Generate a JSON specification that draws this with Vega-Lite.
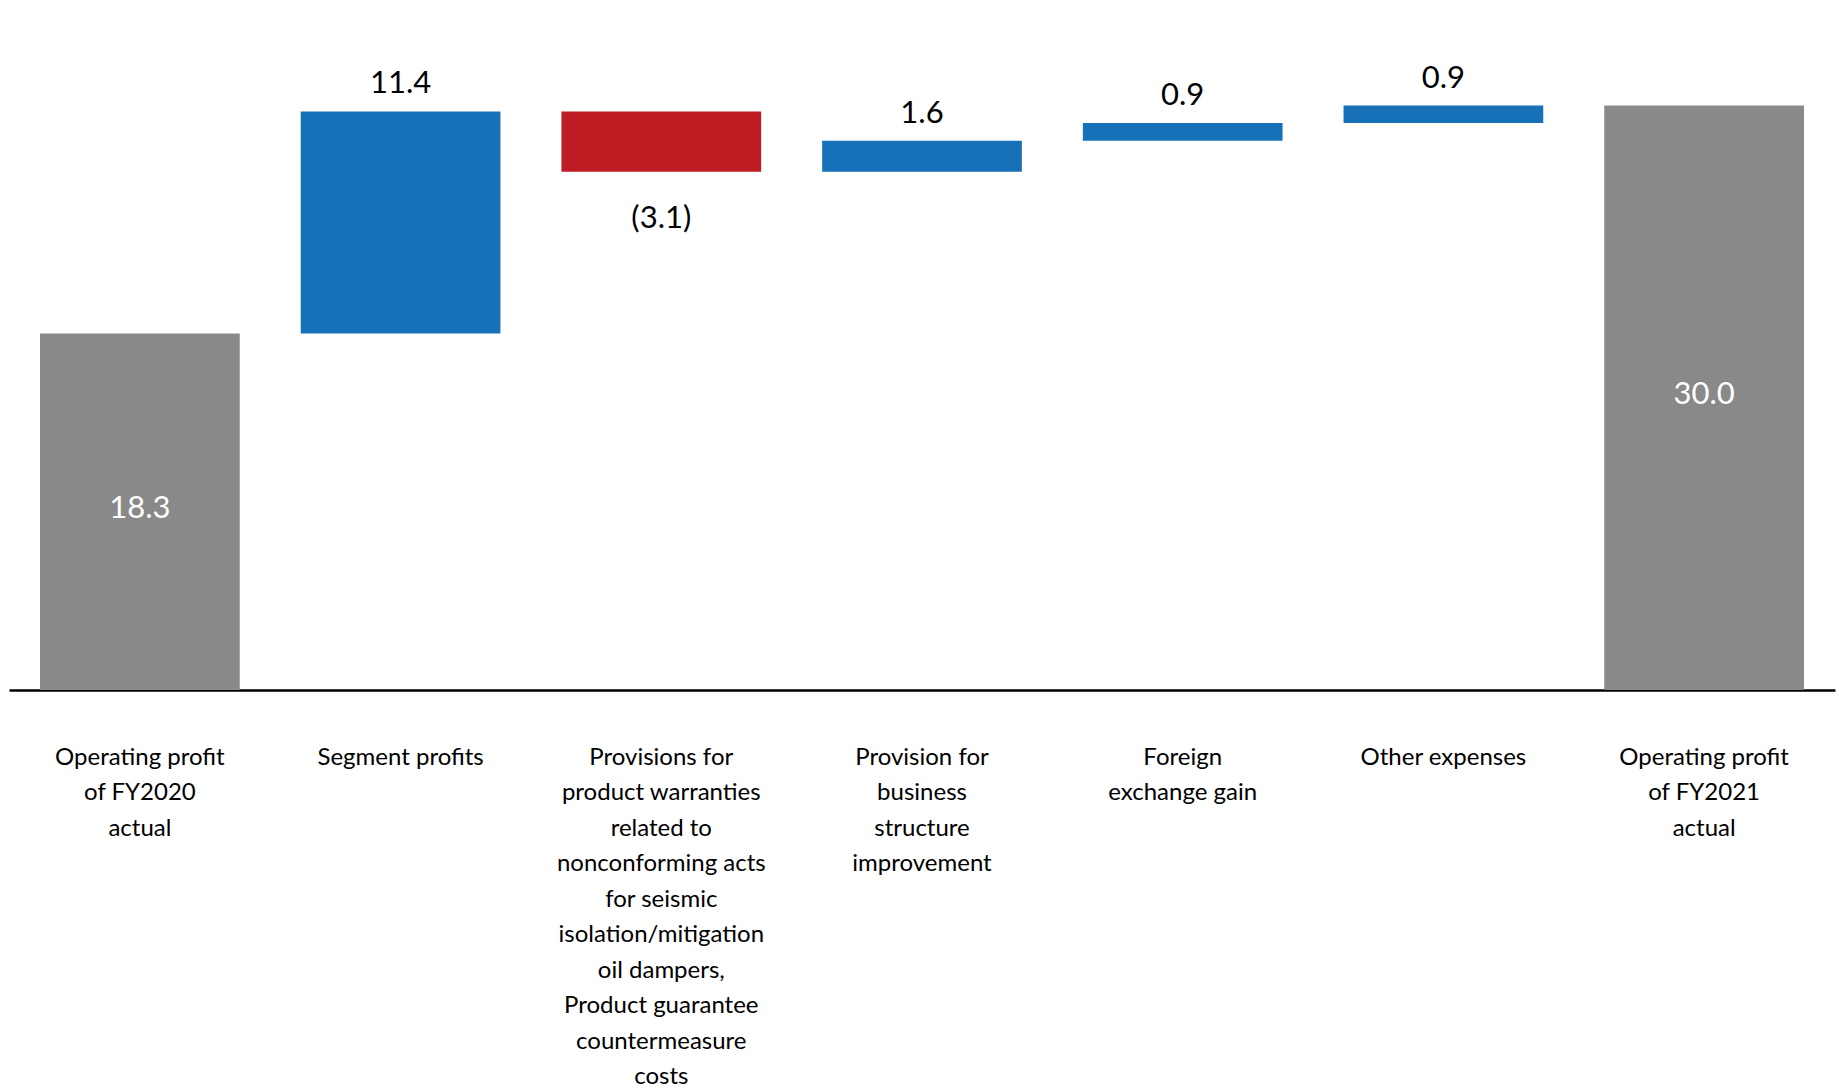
{
  "$schema": "https://vega.github.io/schema/vega-lite/v6.json",
  "width": 1826,
  "height": 690,
  "autosize": {"type": "none"},
  "padding": {"left": 9, "top": 0, "right": 4, "bottom": 401},
  "background": "#ffffff",
  "config": {"view": {"stroke": null}, "font": "Lato"},
  "data": {
    "values": [
      {"cat": "Operating profit|of FY2020|actual", "start": 0, "end": 18.3, "type": "total", "txt": "18.3"},
      {"cat": "Segment profits", "start": 18.3, "end": 29.7, "type": "inc", "txt": "11.4"},
      {"cat": "Provisions for|product warranties|related to|nonconforming acts|for seismic|isolation/mitigation|oil dampers,|Product guarantee|countermeasure|costs", "start": 29.7, "end": 26.6, "type": "dec", "txt": "(3.1)"},
      {"cat": "Provision for|business|structure|improvement", "start": 26.6, "end": 28.2, "type": "inc", "txt": "1.6"},
      {"cat": "Foreign|exchange gain", "start": 28.2, "end": 29.1, "type": "inc", "txt": "0.9"},
      {"cat": "Other expenses", "start": 29.1, "end": 30.0, "type": "inc", "txt": "0.9"},
      {"cat": "Operating profit|of FY2021|actual", "start": 0, "end": 30.0, "type": "total", "txt": "30.0"}
    ]
  },
  "encoding": {
    "x": {
      "field": "cat",
      "type": "nominal",
      "sort": null,
      "scale": {"paddingInner": 0.234, "paddingOuter": 0.119},
      "axis": {
        "title": null,
        "ticks": false,
        "domainColor": "#000000",
        "domainWidth": 2.5,
        "labelAngle": 0,
        "labelExpr": "split(datum.label, '|')",
        "labelFont": "Lato",
        "labelFontSize": 24,
        "labelColor": "#000000",
        "labelBaseline": "top",
        "labelPadding": 55,
        "labelLineHeight": 35.5,
        "labelLimit": 500,
        "labelOverlap": false,
        "labelFlush": false
      }
    }
  },
  "layer": [
    {
      "mark": {"type": "bar"},
      "encoding": {
        "y": {"field": "start", "type": "quantitative", "scale": {"domain": [0, 35.42], "nice": false, "zero": true}, "axis": null},
        "y2": {"field": "end"},
        "color": {
          "field": "type",
          "type": "nominal",
          "scale": {"domain": ["total", "inc", "dec"], "range": ["#898989", "#1771B8", "#BE1C22"]},
          "legend": null
        }
      }
    },
    {
      "transform": [{"filter": "datum.type == 'inc'"}],
      "mark": {"type": "text", "font": "Lato", "fontSize": 31, "color": "#000000", "baseline": "middle", "dy": -27},
      "encoding": {
        "y": {"field": "end", "type": "quantitative"},
        "text": {"field": "txt"}
      }
    },
    {
      "transform": [{"filter": "datum.type == 'dec'"}],
      "mark": {"type": "text", "font": "Lato", "fontSize": 31, "color": "#000000", "baseline": "middle", "dy": 47},
      "encoding": {
        "y": {"field": "end", "type": "quantitative"},
        "text": {"field": "txt"}
      }
    },
    {
      "transform": [
        {"filter": "datum.type == 'total'"},
        {"calculate": "(datum.start + datum.end) / 2", "as": "mid"}
      ],
      "mark": {"type": "text", "font": "Lato", "fontSize": 31, "color": "#ffffff", "baseline": "middle", "dy": -3},
      "encoding": {
        "y": {"field": "mid", "type": "quantitative"},
        "text": {"field": "txt"}
      }
    }
  ]
}
